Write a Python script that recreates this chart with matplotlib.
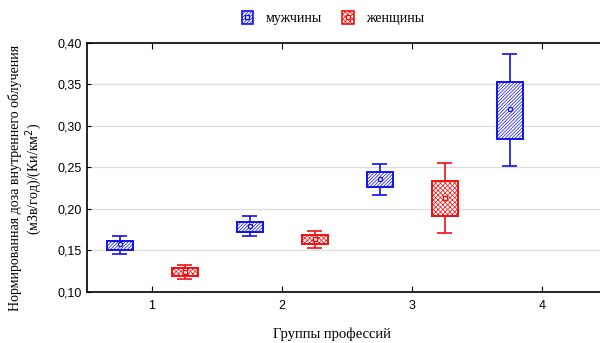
import numpy as np
import matplotlib
matplotlib.use('Agg')
import matplotlib.pyplot as plt
from matplotlib.patches import Patch
from matplotlib.lines import Line2D
from matplotlib.ticker import FuncFormatter

# группы профессий
groups = [1, 2, 3, 4]

# мужчины: среднее, квартили (box), мин/макс (усы)
men_mid = [0.158, 0.1795, 0.2355, 0.3205]
men_q1 = [0.150, 0.172, 0.226, 0.2846]
men_q3 = [0.1617, 0.1847, 0.245, 0.353]
men_lo = [0.1456, 0.1669, 0.217, 0.2515]
men_hi = [0.1669, 0.191, 0.254, 0.3866]

# женщины (в группе 4 нет)
women_groups = [1, 2, 3]
women_mid = [0.124, 0.1637, 0.2128]
women_q1 = [0.1197, 0.158, 0.1919]
women_q3 = [0.1287, 0.1686, 0.2339]
women_lo = [0.1157, 0.1528, 0.171]
women_hi = [0.1327, 0.1738, 0.2548]

yticks = [0.10, 0.15, 0.20, 0.25, 0.30, 0.35, 0.40]

blue = '#1010f0'
red = '#f01010'
men_hatch = '//////////'
women_hatch = 'xxxxxxx'

plt.rcParams['hatch.linewidth'] = 0.5

fig = plt.figure(figsize=(6, 3.43), dpi=100)
ax = fig.add_axes([0.145, 0.149, 0.855, 0.726])


def draw_boxes(xs, mid, q1, q3, lo, hi, color, hatch, marker):
    xs = np.asarray(xs, dtype=float)
    q1 = np.asarray(q1); q3 = np.asarray(q3)
    ax.vlines(xs, lo, q1, color=color, lw=1.2, zorder=2)
    ax.vlines(xs, q3, hi, color=color, lw=1.2, zorder=2)
    ax.hlines(lo, xs - 0.055, xs + 0.055, color=color, lw=1.2, zorder=2)
    ax.hlines(hi, xs - 0.055, xs + 0.055, color=color, lw=1.2, zorder=2)
    ax.bar(xs, q3 - q1, bottom=q1, width=0.2, facecolor='white',
           edgecolor=color, hatch=hatch, lw=1.4, zorder=3)
    ax.plot(xs, mid, ls='none', marker=marker, ms=3, mfc='white',
            mec=color, mew=1.0, zorder=4)


draw_boxes(np.array(groups) - 0.25, men_mid, men_q1, men_q3, men_lo, men_hi,
           blue, men_hatch, 'o')
draw_boxes(np.array(women_groups) + 0.25, women_mid, women_q1, women_q3,
           women_lo, women_hi, red, women_hatch, 's')

ax.set_xlim(0.5, 4.446)
ax.set_ylim(0.10, 0.40)
ax.set_yticks(yticks)
ax.yaxis.set_major_formatter(FuncFormatter(lambda v, p: f'{v:.2f}'.replace('.', ',')))
ax.set_xticks(groups)
ax.grid(axis='y', color='#dddddd', lw=0.9)
ax.set_axisbelow(True)
ax.spines['right'].set_visible(False)
for s in ['left', 'bottom', 'top']:
    ax.spines[s].set_linewidth(1.2)
ax.tick_params(axis='x', direction='in', top=True, length=4, labelsize=9, pad=6)
ax.tick_params(axis='y', direction='in', length=3, labelsize=9, pad=4)
for lab in ax.get_xticklabels() + ax.get_yticklabels():
    lab.set_family('Liberation Sans')

fig.text(0.043, 0.48, 'Нормированная доза внутреннего облучения\n(мЗв/год)/(Ки/км$^2$)',
         rotation=90, ha='center', va='center', family='Liberation Serif',
         fontsize=10, multialignment='center', linespacing=1.1)
fig.text(0.553, 0.026, 'Группы профессий', ha='center', va='center',
         family='Liberation Serif', fontsize=10.5)

handles = [(Patch(facecolor='white', edgecolor=blue, hatch=men_hatch, lw=1.2),
            Line2D([], [], ls='none', marker='s', ms=3, mfc='white', mec=blue)),
           (Patch(facecolor='white', edgecolor=red, hatch=women_hatch, lw=1.2),
            Line2D([], [], ls='none', marker='s', ms=3, mfc='white', mec=red))]
fig.legend(handles, ['мужчины', 'женщины'], loc='center', ncol=2,
           bbox_to_anchor=(0.555, 0.947), frameon=False,
           prop={'family': 'Liberation Serif', 'size': 10},
           handlelength=0.8, handleheight=1.0, columnspacing=1.5, handletextpad=0.9)

fig.savefig('out.png', dpi=100)
